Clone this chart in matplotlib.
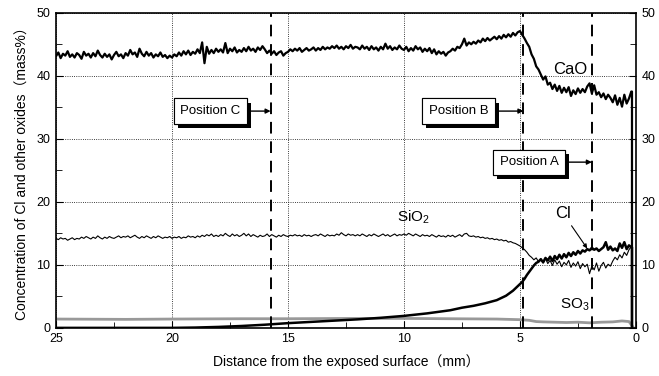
import numpy as np
import matplotlib
matplotlib.use('Agg')
import matplotlib.pyplot as plt
import matplotlib.patheffects as pe

plt.rcParams['font.family'] = ['Liberation Sans', 'Noto Sans CJK JP']
plt.rcParams['mathtext.default'] = 'regular'

# distance from surface (mm), 0.1 mm steps, for CaO and SiO2
dist = np.round(np.arange(25.0, 0.15, -0.1), 1)

cao = [43.1, 43.7, 42.8, 43.5, 43.2, 43.9, 43.0, 43.4, 42.9, 43.6,
       43.3, 42.7, 43.8, 43.2, 43.5, 42.9, 43.6, 43.1, 44.0, 43.3,
       42.9, 43.5, 43.0, 43.4, 42.6, 43.3, 43.8, 43.1, 43.4, 42.8,
       43.6, 43.2, 44.1, 43.4, 43.7, 43.0, 44.3, 43.5, 43.1, 43.8,
       43.2, 43.6, 42.9, 43.4, 43.1, 43.7, 43.0, 43.3, 42.8, 43.2,
       42.9, 43.4, 43.1, 43.7, 43.2, 43.9, 43.4, 44.0, 43.3, 43.8,
       43.5, 44.2, 43.6, 45.3, 42.0, 44.6, 43.5, 44.1, 43.6, 44.3,
       43.8, 44.2, 43.7, 45.2, 43.6, 44.3, 43.9, 44.5, 43.7, 44.1,
       43.8, 44.4, 43.9, 44.6, 44.0, 44.3, 43.8, 44.5, 44.1, 44.7,
       44.2, 43.6, 44.0, 43.5, 43.9, 43.3, 43.7, 43.9, 43.2, 43.6,
       43.8, 44.2, 43.9, 44.3, 44.0, 44.4, 43.8, 44.1, 44.4, 44.0,
       44.2, 44.5, 44.0, 44.4, 44.1, 44.6, 44.2, 44.5, 44.3, 44.7,
       44.4, 44.8, 44.3, 44.6, 44.2, 44.7, 44.4, 44.9, 44.3, 44.6,
       44.5, 44.2, 44.8, 44.3, 44.6, 44.1, 44.7, 44.2, 44.5, 44.0,
       44.6, 44.2, 45.1, 44.3, 44.7, 44.1, 44.5, 44.2, 44.8, 44.3,
       44.1, 44.6, 43.9, 44.4, 44.0, 44.7, 44.2, 44.5, 43.8, 44.3,
       43.9, 44.4, 43.6, 44.2, 43.4, 43.9, 43.5, 43.8, 43.2, 43.7,
       43.9, 44.3, 44.0, 44.6, 44.4, 45.0, 45.9, 44.8, 45.3, 45.0,
       45.4, 45.1, 45.6, 45.3, 45.9, 45.5, 46.0, 45.6, 45.9, 46.2,
       45.8, 46.3, 45.9, 46.5, 46.1, 46.6, 46.2, 46.8, 46.4, 46.9,
       47.1, 46.5, 45.9, 45.2, 44.6, 43.4, 42.7, 41.5, 41.0, 40.2,
       39.4, 39.9, 38.6, 38.9, 37.9, 38.6, 37.6, 38.4, 37.3, 38.1,
       37.4, 38.2, 36.8, 37.7, 37.1, 38.0, 37.3, 37.9, 37.4, 38.3,
       38.8, 37.2, 38.5, 37.0, 37.4, 36.6, 37.2, 36.3, 37.0, 36.5,
       35.8, 36.9, 35.4, 36.5, 35.1, 37.0, 35.6, 36.4, 37.5]

sio2 = [14.2, 14.0, 14.3, 14.1, 14.2, 13.9, 14.1, 14.3, 14.0, 14.2,
        14.1, 14.4, 14.2, 14.5, 14.3, 14.1, 14.4, 14.2, 14.6, 14.3,
        14.1, 14.4, 14.2, 14.5, 14.3, 14.2, 14.4, 14.6, 14.3, 14.5,
        14.4, 14.6, 14.3, 14.5, 14.7, 14.4, 14.2, 14.5, 14.3, 14.6,
        14.4, 14.2, 14.5, 14.3, 14.6, 14.4, 14.2, 14.4, 14.3, 14.5,
        14.2, 14.4, 14.3, 14.5, 14.2, 14.4, 14.3, 14.6, 14.4, 14.5,
        14.3, 14.6, 14.4, 14.7, 14.5, 14.8, 14.6, 14.9, 14.5, 14.7,
        14.5, 14.8, 14.6, 15.0, 14.7, 14.5, 14.9, 14.6, 14.8, 14.5,
        14.7, 15.0, 14.6, 14.9, 14.5, 14.8, 14.6, 14.4, 14.7, 14.5,
        14.6, 14.9, 14.5, 14.8, 14.6, 14.4, 14.7, 14.5, 14.8, 14.6,
        14.5, 14.7, 14.6, 14.8, 14.6, 14.7, 14.5, 14.8, 14.6, 14.7,
        14.5, 14.7, 14.8, 14.6, 14.9, 14.7, 14.5, 14.8, 14.6, 14.7,
        14.6, 14.9, 14.7, 15.1, 14.8, 14.6, 14.9, 14.7, 14.8, 14.6,
        14.8, 14.6, 14.9, 14.7, 14.5, 14.8, 14.6, 14.9, 14.7, 14.5,
        14.7, 14.9, 14.6, 14.8, 14.5, 14.7, 14.9, 14.6, 14.8, 14.7,
        14.9, 14.7, 15.0, 14.8, 14.6, 14.9, 14.7, 14.5, 14.8, 14.6,
        14.7, 14.5, 14.8, 14.6, 14.4, 14.7, 14.5, 14.6, 14.4, 14.7,
        14.5, 14.7, 14.4, 14.6, 14.8, 14.5, 14.9, 15.0, 14.6, 14.5,
        14.6, 14.4, 14.5, 14.3, 14.4, 14.2, 14.3, 14.1, 14.2, 14.0,
        14.1, 13.9, 14.0, 13.8, 13.9, 13.6, 13.7, 13.5, 13.4, 13.2,
        13.0, 12.7, 12.4, 12.0, 11.5, 11.2, 10.8, 11.1, 10.5, 10.9,
        10.3, 11.0, 10.2, 10.7, 9.9, 10.8, 10.1, 10.6, 9.7, 10.4,
        10.0, 10.7, 9.6, 10.3, 9.8, 10.5, 9.4, 10.2, 9.7, 10.1,
        8.6, 9.8, 9.2, 10.3, 9.0, 9.9, 10.4, 9.5, 10.1, 9.8,
        10.6, 11.2, 10.8, 11.6, 11.1, 12.0, 11.5, 12.4, 12.9]

cl_x = [25, 20, 19, 18, 17, 16, 15, 14, 13, 12, 11, 10, 9, 8, 7.5, 7, 6.5,
        6, 5.6, 5.3, 5.1, 4.9, 4.8, 4.7, 4.6, 4.5, 4.4, 4.3] + \
    list(np.round(np.arange(4.2, 0.15, -0.1), 1))
cl = [0, 0, 0.05, 0.15, 0.3, 0.5, 0.75, 0.95, 1.15, 1.35, 1.6, 1.9, 2.3,
      2.8, 3.2, 3.5, 3.9, 4.4, 5.1, 5.9, 6.6, 7.3, 7.8, 8.4, 8.9, 9.4,
      9.9, 10.3,
      10.5, 10.9, 10.4, 11.1, 10.7, 11.3, 10.6, 11.4, 10.9, 11.6,
      11.0, 11.7, 11.2, 11.9, 11.4, 12.0, 11.6, 12.2, 11.8, 12.3,
      12.1, 12.5, 12.3, 12.7, 12.4, 12.6, 12.2, 12.5, 12.8, 13.6,
      12.4, 12.9, 12.3, 12.6, 12.2, 13.4, 12.7, 13.6, 12.5, 13.1,
      12.8]

so3_x = [25, 22, 20, 17, 15, 12, 10, 8, 6, 5.5, 5, 4.6, 4.3, 4.0, 3.5,
         3, 2.5, 2, 1.5, 1, 0.6, 0.3, 0.2, 0.1]
so3 = [1.4, 1.35, 1.4, 1.45, 1.45, 1.5, 1.5, 1.45, 1.4, 1.35, 1.3, 1.2,
       1.0, 0.95, 0.9, 0.85, 0.9, 0.8, 0.9, 0.95, 1.1, 1.0, 0.5, 0.0]

positions = {'Position C': 15.75, 'Position B': 4.85, 'Position A': 1.9}
box_xy = {'Position C': (18.35, 34.4), 'Position B': (7.65, 34.4),
          'Position A': (4.6, 26.3)}

fig = plt.figure(figsize=(6.59, 3.76), dpi=100)
ax = fig.add_axes([0.085, 0.128, 0.88, 0.838])

ax.plot(so3_x, so3, color='#999999', lw=2)
ax.plot(list(dist) + [0.17, 0.17], sio2 + [12.5, 0], color='k', lw=0.8)
ax.plot(cl_x + [0.17, 0.17], cl + [12.8, 0], color='k', lw=1.8)
ax.plot(list(dist) + [0.17, 0.17], cao + [37.5, 0], color='k', lw=1.6)

for name, xpos in positions.items():
    ax.axvline(xpos, color='k', lw=1.4, ls=(0, (6, 4)))
    tx, ty = box_xy[name]
    t = ax.annotate(name, xy=(xpos, ty), xytext=(tx, ty), fontsize=9.5,
                    ha='center', va='center',
                    bbox=dict(boxstyle='square,pad=0.5', fc='white',
                              ec='k', lw=0.8),
                    arrowprops=dict(arrowstyle='-|>', color='k', lw=1,
                                    mutation_scale=7, shrinkA=0, shrinkB=0))
    t.get_bbox_patch().set_path_effects(
        [pe.withSimplePatchShadow(offset=(3, -3), shadow_rgbFace='k', alpha=1),
         pe.Normal()])

ax.text(2.85, 41.0, 'CaO', fontsize=12, ha='center', va='center')
ax.text(9.6, 17.6, 'SiO$_2$', fontsize=11, ha='center', va='center')
ax.text(2.65, 3.7, 'SO$_3$', fontsize=11, ha='center', va='center')
ax.annotate('Cl', xy=(2.1, 12.6), xytext=(3.15, 18.2), fontsize=12,
            ha='center', va='center',
            arrowprops=dict(arrowstyle='-|>', color='k', lw=0.8,
                            mutation_scale=6, shrinkA=2, shrinkB=0))

ax.set_xlim(25, 0)
ax.set_ylim(0, 50)
ax.set_xticks([25, 20, 15, 10, 5, 0])
ax.set_xticks([22.5, 17.5, 12.5, 7.5, 2.5], minor=True)
ax.set_yticks([0, 10, 20, 30, 40, 50])
ax.set_yticks([5, 15, 25, 35, 45], minor=True)
ax.grid(True, which='major', color='k', ls=':', lw=0.6)
ax.tick_params(which='both', direction='in', right=True, labelright=True,
               labelsize=9, pad=4)
ax.tick_params(which='major', length=5)
ax.tick_params(which='minor', length=4)
for s in ax.spines.values():
    s.set_linewidth(1.2)

ax.set_xlabel('Distance from the exposed surface（mm）', fontsize=10,
              labelpad=6)
ax.set_ylabel('Concentration of Cl and other oxides（mass%）', fontsize=10,
              labelpad=5)

plt.savefig('out.png', dpi=100)
